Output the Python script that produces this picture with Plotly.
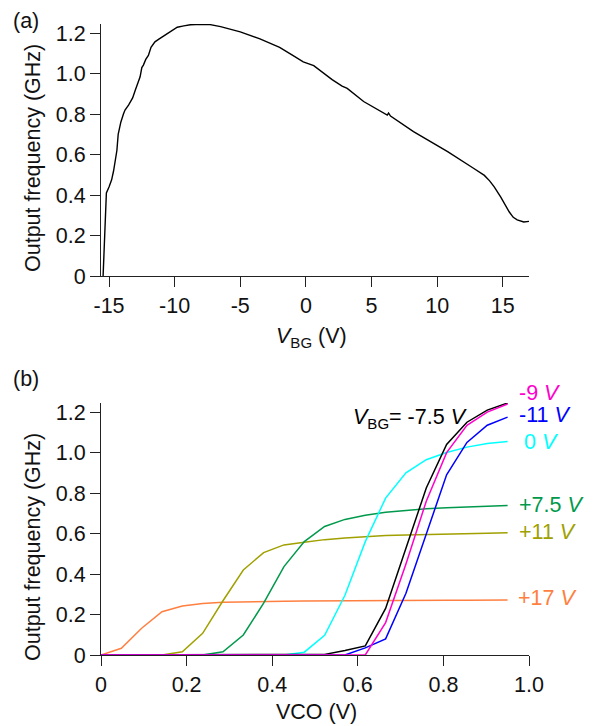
import plotly.graph_objects as go

# ---- Panel (a): output frequency vs back-gate voltage ----
vbg = [-15.45, -15.2, -15.0, -14.8, -14.65, -14.54, -14.4, -14.3, -14.1, -13.9,
       -13.78, -13.5, -13.2, -13.0, -12.8, -12.63, -12.5, -12.38, -12.2, -12.0,
       -11.8, -11.5, -11.2, -11.0, -10.7, -10.35, -10.0, -9.8, -9.3, -8.8,
       -8.0, -7.3, -6.5, -5.0, -3.5, -2.0, -1.0, -0.2, 0.6, 1.5,
       2.0, 2.76, 3.15, 4.4, 5.3, 6.2, 6.3, 6.45, 8.2, 10.8,
       12.8, 13.6, 14.0, 14.35, 14.85, 15.2, 15.5, 15.8, 16.1, 16.6, 17.0]
freq_a = [0.0, 0.41, 0.44, 0.475, 0.52, 0.575, 0.62, 0.70, 0.76, 0.80,
          0.82, 0.845, 0.88, 0.918, 0.95, 0.984, 1.03, 1.042, 1.07, 1.09,
          1.13, 1.157, 1.17, 1.179, 1.19, 1.205, 1.222, 1.229, 1.236, 1.241,
          1.244, 1.242, 1.232, 1.206, 1.172, 1.13, 1.09, 1.058, 1.039, 0.993,
          0.97, 0.938, 0.927, 0.862, 0.83, 0.795, 0.805, 0.79, 0.713, 0.614,
          0.531, 0.497, 0.47, 0.44, 0.39, 0.35, 0.316, 0.29, 0.277, 0.267, 0.27]

# ---- Panel (b): output frequency vs VCO for several V_BG ----
vco = [0, 0.0475, 0.095, 0.1425, 0.19, 0.2375, 0.285, 0.3325, 0.38, 0.4275,
       0.475, 0.5225, 0.57, 0.6175, 0.665, 0.7125, 0.76, 0.8075, 0.855, 0.9025, 0.95]

f_p17 = [0, 0.033, 0.132, 0.214, 0.242, 0.255, 0.260, 0.263, 0.265, 0.266,
         0.267, 0.268, 0.268, 0.269, 0.269, 0.270, 0.270, 0.271, 0.271, 0.272, 0.272]
f_p11 = [0, 0, 0, 0, 0.016, 0.107, 0.268, 0.42, 0.506, 0.544,
         0.557, 0.57, 0.578, 0.585, 0.59, 0.593, 0.596, 0.598, 0.60, 0.602, 0.604]
f_p75 = [0, 0, 0, 0, 0, 0, 0.016, 0.099, 0.256, 0.437,
         0.56, 0.635, 0.67, 0.69, 0.705, 0.715, 0.722, 0.728, 0.732, 0.735, 0.738]
f_0 = [0, 0, 0, 0, 0, 0, 0, 0, 0, 0,
       0.014, 0.097, 0.295, 0.56, 0.775, 0.90, 0.965, 1.0, 1.027, 1.045, 1.055]
f_m75 = [0, 0, 0, 0, 0, 0, 0, 0, 0, 0,
         0, 0.003, 0.022, 0.045, 0.23, 0.53, 0.825, 1.04, 1.15, 1.21, 1.245]
f_m11 = [0, 0, 0, 0, 0, 0, 0, 0, 0, 0,
         0, 0, 0, 0.035, 0.08, 0.305, 0.60, 0.89, 1.05, 1.135, 1.175]
f_m9 = [0, 0, 0, 0, 0, 0, 0, 0, 0, 0,
        0, 0, 0, 0, 0.16, 0.45, 0.76, 1.0, 1.135, 1.20, 1.24]

series_b = [
    ("+17 V", f_p17, "#FF7F40"),
    ("+11 V", f_p11, "#A0A000"),
    ("+7.5 V", f_p75, "#00994C"),
    ("0 V", f_0, "#00FFFF"),
    ("-7.5 V", f_m75, "#000000"),
    ("-11 V", f_m11, "#0000FF"),
    ("-9 V", f_m9, "#FF00CC"),
]

y_ticks = [0, 0.2, 0.4, 0.6, 0.8, 1.0, 1.2]
y_ticktext = ["0", "0.2", "0.4", "0.6", "0.8", "1.0", "1.2"]
xa_ticks = [-15, -10, -5, 0, 5, 10, 15]
xa_ticktext = ["-15", "-10", "-5", "0", "5", "10", "15"]
xb_ticks = [0, 0.2, 0.4, 0.6, 0.8, 1.0]
xb_ticktext = ["0", "0.2", "0.4", "0.6", "0.8", "1.0"]

FONT = "Liberation Sans, Arial, sans-serif"
FS = 21.5
OFF = 8          # page body margin
W, H = 594 - OFF, 726 - OFF


def px(x):
    return (x - OFF) / W


def py(y):
    return 1 - (y - OFF) / H


fig = go.Figure()
fig.add_trace(go.Scatter(x=vbg, y=freq_a, mode="lines",
                         line=dict(color="black", width=1.4),
                         xaxis="x", yaxis="y", showlegend=False))
for name, vals, col in series_b:
    fig.add_trace(go.Scatter(x=vco, y=vals, mode="lines", name=name,
                             line=dict(color=col, width=1.5),
                             xaxis="x2", yaxis="y2", showlegend=False))

axis_common = dict(showline=True, linecolor="#222", linewidth=1.2,
                   ticks="outside", ticklen=10, tickwidth=1.2, tickcolor="#222",
                   showgrid=False, zeroline=False, automargin=False,
                   tickfont=dict(family=FONT, size=FS, color="#111"))

xdom = [px(101), px(529)]
fig.update_layout(
    width=W, height=H,
    margin=dict(l=0, r=0, t=0, b=0),
    paper_bgcolor="white", plot_bgcolor="white",
    font=dict(family=FONT, size=FS, color="#111"),
    xaxis=dict(domain=xdom, anchor="y", range=[-15.61, 17.0],
               tickvals=xa_ticks, ticktext=xa_ticktext, **axis_common),
    yaxis=dict(domain=[py(276), py(24)], anchor="x", range=[0, 1.245],
               tickvals=y_ticks, ticktext=y_ticktext, **axis_common),
    xaxis2=dict(domain=xdom, anchor="y2", range=[0, 1.0],
                tickvals=xb_ticks, ticktext=xb_ticktext, **axis_common),
    yaxis2=dict(domain=[py(655), py(403)], anchor="x2", range=[0, 1.245],
                tickvals=y_ticks, ticktext=y_ticktext, **axis_common),
)

# Axis titles and panel letters (paper coords)
titles = [
    ("<i>V</i><sub>BG</sub> (V)", 312, 338, 0),
    ("VCO (V)", 316, 712, 0),
    ("Output frequency (GHz)", 33, 158, -90),
    ("Output frequency (GHz)", 33, 547, -90),
    ("(a)", 26, 21, 0),
    ("(b)", 26, 379, 0),
]
for txt, xx, yy, ang in titles:
    fig.add_annotation(text=txt, x=px(xx), y=py(yy), xref="paper", yref="paper",
                       xanchor="center", yanchor="middle", showarrow=False, textangle=ang,
                       font=dict(family=FONT, size=FS, color="#111"))

# Curve labels in panel (b)
labels = [
    ("-9 <i>V</i>", 517, 393, "#FF00CC"),
    ("-11 <i>V</i>", 517, 415, "#0000FF"),
    ("0 <i>V</i>", 522, 442, "#00FFFF"),
    ("+7.5 <i>V</i>", 517, 505, "#00994C"),
    ("+11 <i>V</i>", 517, 532, "#A0A000"),
    ("+17 <i>V</i>", 516, 598, "#FF7F40"),
    ("<i>V</i><sub>BG</sub>= -7.5 <i>V</i>", 351, 418, "#000000"),
]
for txt, xx, yy, col in labels:
    fig.add_annotation(text=txt, x=px(xx), y=py(yy), xref="paper", yref="paper",
                       xanchor="left", yanchor="middle", showarrow=False,
                       font=dict(family=FONT, size=FS, color=col))

fig.write_html("out.html")
